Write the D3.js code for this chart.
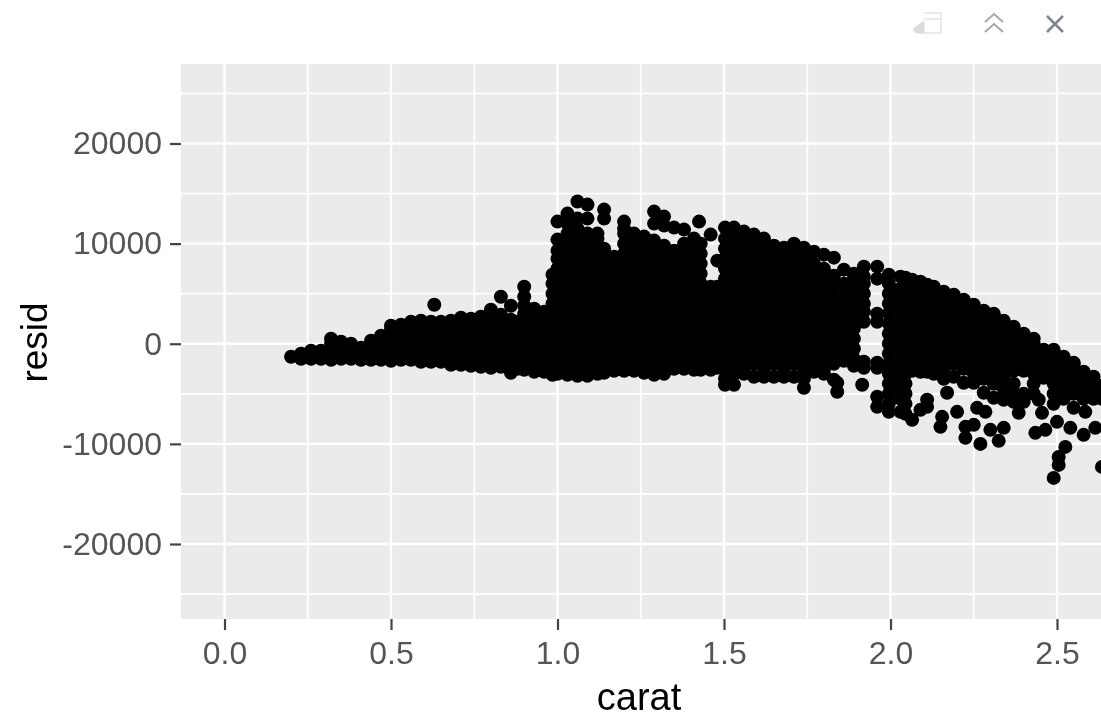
<!DOCTYPE html>
<html>
<head>
<meta charset="utf-8">
<script src="https://cdn.jsdelivr.net/npm/d3@7"></script>
<style>
  html,body{margin:0;padding:0;background:#fff;}
  svg{display:block;filter:blur(0.6px);}
  text{font-family:"Liberation Sans",Arial,sans-serif;}
</style>
</head>
<body>
<svg width="1101" height="718"></svg>
<script>
// residuals vs carat
const carats = [
  0.20,0.23,0.26,0.29,0.32,0.35,0.38,0.41,0.44,0.47,
  0.50,0.53,0.56,0.59,0.62,0.65,0.68,0.71,0.74,0.77,
  0.80,0.83,0.86,0.88,0.90,0.93,0.96,0.985,1.00,1.03,
  1.06,1.09,1.12,1.14,1.17,1.20,1.23,1.26,1.29,
  1.32,1.35,1.38,1.41,1.425,1.43,1.46,1.48,1.503,1.53,1.56,1.59,
  1.62,1.65,1.68,1.71,1.74,1.77,1.80,1.83,1.84,1.86,
  1.89,1.92,1.96,1.995,2.03,2.045,2.065,2.09,2.11,2.13,
  2.16,2.19,2.22,2.25,2.28,2.31,2.34,2.37,2.40,2.43,
  2.46,2.49,2.52,2.55,2.58,2.61,2.635
];
const residsAtCarat = [
  [-1300],
  [-1500,-1000],
  [-1500,-700],
  [-1500,-700],
  [-1600,-800,0,500],
  [-1500,-700,200],
  [-1500,-700,0],
  [-1600,-800,-400],
  [-1600,-800,300],
  [-1600,-800,0,800],
  [-1700,-1000,-200,600,1400,1800],
  [-1600,-800,0,800,1600,1900],
  [-1600,-800,0,800,1600,2200],
  [-1800,-1000,-200,600,1400,2300],
  [-1800,-1000,-200,600,1400,2200],
  [-1800,-1000,-200,600,1400,2200],
  [-2100,-1300,-500,300,1100,1900,2300],
  [-2100,-1200,-400,400,1200,2000,2600],
  [-2200,-1400,-600,200,1000,1800,2500],
  [-2300,-1500,-700,100,900,1700,2700],
  [-2400,-1600,-800,0,800,1600,2400,3400],
  [-2300,-1500,-700,100,900,1700,2500,2900,4700],
  [-2900,-2000,-1200,-400,400,1200,2000,2400,3800],
  [-2500,-1600,-800,0,800,1600,2200],
  [-2600,-1800,-1000,-200,600,1400,2200,3000,3800,4700,5700],
  [-2800,-2000,-1000,0,1000,2000,3000,3500],
  [-2800,-2500,-1500,-500,500,1500,2500,3200],
  [-3100,-2000,-1000,0,1000,2000,3000,4000,5000,6000,6900],
  [-3000,-2500,-1500,-500,500,1500,2500,3500,4500,5500,6500,7500,8500,9300,10400,12200],
  [-3100,-2000,-1000,0,1000,2000,3000,4000,5000,6000,7000,8000,9000,10000,11000,12000,13000],
  [-3200,-2500,-1500,-500,500,1500,2500,3500,4500,5500,6500,7500,8500,9500,10500,11500,12500,14200],
  [-3200,-2000,-1000,0,1000,2000,3000,4000,5000,6000,7000,8000,9000,10000,11000,12500,13900],
  [-3000,-2500,-1500,-500,500,1500,2500,3500,4500,5500,6500,7500,8500,9500,10500,11000],
  [-2900,-2000,-1000,0,1000,2000,3000,4000,5000,6000,7000,8000,9000,9500,12500,13400],
  [-2700,-2500,-1500,-500,500,1500,2500,3500,4500,5500,6500,7500,8700],
  [-2700,-2000,-1000,0,1000,2000,3000,4000,5000,6000,7000,8000,9000,10000,11000,11500,12200],
  [-2700,-1500,-500,500,1500,2500,3500,4500,5500,6500,7500,8500,9500,10500,11000],
  [-2900,-2000,-1000,0,1000,2000,3000,4000,5000,6000,7000,8000,9000,10000,10700],
  [-3100,-2500,-1500,-500,500,1500,2500,3500,4500,5500,6500,7500,8500,9500,10300,12000,13200],
  [-3000,-2000,-1000,0,1000,2000,3000,4000,5000,6000,7000,8000,9000,9800,11800,12700],
  [-2500,-1500,-500,500,1500,2500,3500,4500,5500,6500,7500,8500,9300,11600],
  [-2500,-2000,-1000,0,1000,2000,3000,4000,5000,6000,7000,8000,9000,10000,11400],
  [-2600,-1500,-500,500,1500,2500,3500,4500,5500,6500,7500,8500,9500,10500],
  [12200],
  [-2600,-2000,-1000,0,1000,2000,3000,4000,5000,6000,7000,8000,9000,10000],
  [-2600,-1500,-500,500,1500,2500,3500,4500,5700,10900],
  [-2400,-2000,-1000,0,1000,2000,3000,4000,5000,5700,8300],
  [-4100,-3500,-2500,-1500,-500,500,1500,2500,3500,4500,5500,6500,7500,8500,9500,10500,11600],
  [-4100,-3000,-2000,-1000,0,1000,2000,3000,4000,5000,6000,7000,8000,9000,10000,11000,11600],
  [-3000,-2500,-1500,-500,500,1500,2500,3500,4500,5500,6500,7500,8500,9500,10500,11200],
  [-3300,-2000,-1000,0,1000,2000,3000,4000,5000,6000,7000,8000,9000,10000,10900],
  [-3300,-2500,-1500,-500,500,1500,2500,3500,4500,5500,6500,7500,8500,9500,10500],
  [-3300,-2000,-1000,0,1000,2000,3000,4000,5000,6000,7000,8000,9000,9800],
  [-3300,-2500,-1500,-500,500,1500,2500,3500,4500,5500,6500,7500,8500,9600],
  [-3300,-2000,-1000,0,1000,2000,3000,4000,5000,6000,7000,8000,9000,10000],
  [-4400,-3500,-2500,-1500,-500,500,1500,2500,3500,4500,5500,6500,7500,8500,9600],
  [-2800,-2000,-1000,0,1000,2000,3000,4000,5000,6000,7000,8000,9200],
  [-3000,-2500,-1500,-500,500,1500,2500,3500,4500,5500,6500,7500,8900],
  [-3600,-2000,-1000,0,1000,2000,3000,4000,5000,6000,6800,8600],
  [-4800,-3900],
  [-1700,-1000,0,1000,2000,3000,4000,5000,6000,7400],
  [-2200,-1500,-500,500,1500,2500,3500,4500,5500,6500,7000],
  [-2400,-1800,2200,3200,4000,5000,6000,6700,7700],
  [-6300,-5300,-2400,-1900,2200,3000,6500,7700],
  [-6800,-6000,-5000,-4000,-3000,-2000,-1000,0,1000,2000,3000,4000,5000,6000,6900],
  [-6800,-5500,-4500,-3500,-2500,-1500,-500,500,1500,2500,3500,4500,5500,6700],
  [-7000,-6000,-5000,-4000,-3000,-2000,-1000,0,1000,2000,3000,4000,5000,6000,6600],
  [-7600,-2700,-1500,-500,500,1500,2500,3500,4500,5500,6400],
  [-6600,-2800,-2000,-1000,0,1000,2000,3000,4000,5000,6200],
  [-6300,-5600,-2800,-1500,-500,500,1500,2500,3500,4500,5500,5900],
  [-3000,-2000,-1000,0,1000,2000,3000,4000,5000,5700],
  [-3500,-2500,-1500,-500,500,1500,2500,3500,4500,5200],
  [-3300,-2000,-1000,0,1000,2000,3000,4000,4900],
  [-3900,-2500,-1500,-500,500,1500,2500,3500,4400],
  [-3900,-3000,-2000,-1000,0,1000,2000,3000,3900],
  [-4900,-3500,-2500,-1500,-500,500,1500,2500,3300],
  [-5400,-4000,-3000,-2000,-1000,0,1000,2000,2800,3000],
  [-5600,-4500,-3500,-2500,-1500,-500,500,1500,2300],
  [-5800,-5000,-4000,-2700,-2000,-1000,0,1000,1700],
  [-5800,-5000,-2700,-1500,-500,500,1000],
  [-5000,-4000,-3000,-2000,-1000,0,500],
  [-3400,-2500,-1500,-600],
  [-6000,-5000,-4000,-3000,-2000,-1000,-600],
  [-5500,-4500,-3500,-2500,-1500,-1300],
  [-6400,-5000,-4000,-3000,-2000,-1900],
  [-5500,-4500,-3500,-2800],
  [-5500,-5000,-4000,-3300],
  [-12300,-5500,-4500,-4200]
];
// the stray points around the main mass
const strayCarat = [0.63,1.915,2.15,2.155,2.17,2.20,2.225,2.225,2.25,2.26,2.27,2.285,2.30,2.325,2.34,2.385,2.435,2.445,2.455,2.465,2.49,2.50,2.505,2.505,2.525,2.54,2.58,2.585,2.615];
const strayResid = [3900,-4100,-8300,-7300,-4900,-6800,-9400,-8300,-8100,-6400,-10000,-6800,-8600,-9700,-8400,-6900,-8900,-5600,-6900,-8600,-13400,-7800,-11300,-12100,-10300,-8400,-9100,-6800,-8400];
const xTicks = [0,0.5,1,1.5,2,2.5];
const xMinor = [0.25,0.75,1.25,1.75,2.25];
const yTicks = [-20000,-10000,0,10000,20000];
const yMinor = [-25000,-15000,-5000,5000,15000,25000];

const svg = d3.select("svg");
const PANEL = {left:181, right:1101, top:64, bottom:619};

// 0.0 at 224.5 and 2.5 at 1057 ; 20000 at 143.5 and -20000 at 544
const x = d3.scaleLinear().domain([0,2.5]).range([224.5,1057]);
const y = d3.scaleLinear().domain([-20000,20000]).range([544,143.5]);

svg.append("defs").append("clipPath").attr("id","panel")
  .append("rect").attr("x",PANEL.left).attr("y",PANEL.top)
  .attr("width",PANEL.right-PANEL.left).attr("height",PANEL.bottom-PANEL.top);

svg.append("rect").attr("x",PANEL.left).attr("y",PANEL.top)
  .attr("width",PANEL.right-PANEL.left).attr("height",PANEL.bottom-PANEL.top)
  .attr("fill","#ebebeb");

// ---------- grid ----------
const grid = svg.append("g").attr("stroke","#fff").attr("fill","none");
grid.selectAll(".vmin").data(xMinor).join("line").attr("class","vmin")
  .attr("x1",x).attr("x2",x).attr("y1",PANEL.top).attr("y2",PANEL.bottom).attr("stroke-width",1.8);
grid.selectAll(".hmin").data(yMinor).join("line").attr("class","hmin")
  .attr("x1",PANEL.left).attr("x2",PANEL.right).attr("y1",y).attr("y2",y).attr("stroke-width",1.8);
grid.selectAll(".vmaj").data(xTicks).join("line").attr("class","vmaj")
  .attr("x1",x).attr("x2",x).attr("y1",PANEL.top).attr("y2",PANEL.bottom).attr("stroke-width",2.4);
grid.selectAll(".hmaj").data(yTicks).join("line").attr("class","hmaj")
  .attr("x1",PANEL.left).attr("x2",PANEL.right).attr("y1",y).attr("y2",y).attr("stroke-width",2.4);

// ---------- points ----------
const points = carats.flatMap((c,i)=>residsAtCarat[i].map(r=>({carat:c,resid:r})))
  .concat(strayCarat.map((c,i)=>({carat:c,resid:strayResid[i]})));
svg.append("g").attr("clip-path","url(#panel)")
  .selectAll("circle").data(points).join("circle")
  .attr("cx",d=>x(d.carat)).attr("cy",d=>y(d.resid)).attr("r",7).attr("fill","#000");

// ---------- axes ----------
const xAxis = svg.append("g").attr("transform",`translate(0,${PANEL.bottom})`)
  .call(d3.axisBottom(x).tickValues(xTicks).tickFormat(d3.format(".1f")).tickSize(11).tickPadding(11));
const yAxis = svg.append("g").attr("transform",`translate(${PANEL.left},0)`)
  .call(d3.axisLeft(y).tickValues(yTicks).tickFormat(d=>String(d)).tickSize(11).tickPadding(8));
[xAxis,yAxis].forEach(a=>{
  a.select(".domain").remove();
  a.selectAll(".tick line").attr("stroke","#444").attr("stroke-width",2.2);
  a.selectAll(".tick text").attr("fill","#555").attr("font-size",32);
});

svg.append("text").attr("x",639).attr("y",710).attr("text-anchor","middle")
  .attr("fill","#000").attr("font-size",38).text("carat");
svg.append("text").attr("transform","translate(47,342.5) rotate(-90)").attr("text-anchor","middle")
  .attr("fill","#000").attr("font-size",37).text("resid");

// ---------- notebook chunk icons ----------
const icons = svg.append("g").attr("fill","none");
icons.append("path").attr("d","M924,13 H941 V33 H922 M924,19 H941").attr("stroke","#e4e4e4").attr("stroke-width",1.5);
icons.append("path").attr("d","M913,29 L924,21 V33 L916,33 Z").attr("fill","#dcdcdc").attr("stroke","#dcdcdc");
icons.append("path").attr("d","M985,22 L994,14 L1003,22 M985,32 L994,24 L1003,32").attr("stroke","#a4a8ac").attr("stroke-width",2);
icons.append("path").attr("d","M1047,16 L1063,32 M1063,16 L1047,32").attr("stroke","#80858f").attr("stroke-width",2.5);
</script>
</body>
</html>
